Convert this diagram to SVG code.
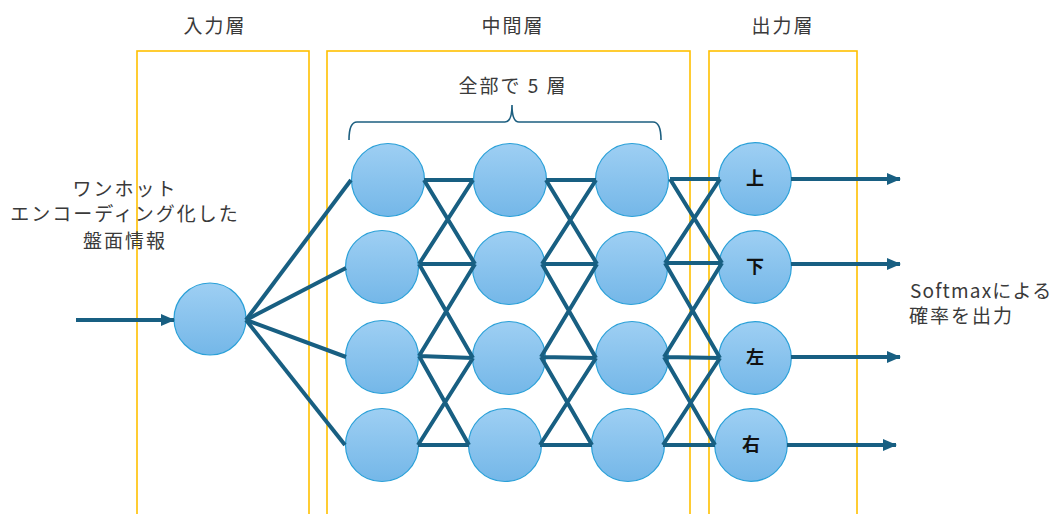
<svg xmlns="http://www.w3.org/2000/svg" width="1055" height="514" viewBox="0 0 1055 514">
<defs>
<linearGradient id="nodeGrad" x1="0" y1="0" x2="0" y2="1">
<stop offset="0" stop-color="#9ecff3"/>
<stop offset="1" stop-color="#74b7e8"/>
</linearGradient>
<marker id="arrow" markerUnits="userSpaceOnUse" markerWidth="14" markerHeight="14" viewBox="0 0 14 14" refX="13" refY="7" orient="auto">
<path d="M0,1 L14,7 L0,13 Z" fill="#185f82"/>
</marker>
<style>
.layer{fill:none;stroke:#ffc000;stroke-width:1.6}
.node{fill:url(#nodeGrad);stroke:#2aa0d8;stroke-width:1.2}
.conn{fill:none;stroke:#185f82;stroke-width:4;stroke-linecap:butt}
.arr{fill:none;stroke:#185f82;stroke-width:4;marker-end:url(#arrow)}
.lbl{font-family:"Noto Sans CJK JP","Noto Sans",sans-serif;font-size:19px;fill:#3a3a3a;text-anchor:middle;letter-spacing:2px}
.side{font-family:"Noto Sans CJK JP","Noto Sans",sans-serif;font-size:19px;fill:#3a3a3a;letter-spacing:2px}
.out{font-family:"Noto Sans CJK JP","Noto Sans",sans-serif;font-size:18px;font-weight:bold;fill:#111;text-anchor:middle}
</style>
</defs>
<rect width="1055" height="514" fill="#ffffff"/>

<g id="layers">
<rect class="layer" x="137" y="51" width="172" height="500"/>
<rect class="layer" x="327" y="51" width="363" height="500"/>
<rect class="layer" x="709" y="51" width="148" height="500"/>
<text class="lbl" x="215" y="33">入力層</text>
<text class="lbl" x="513" y="33">中間層</text>
<text class="lbl" x="783" y="33">出力層</text>
</g>

<g id="brace">
<text class="lbl" x="513" y="93">全部で 5 層</text>
<path d="M349,140 Q349,122 357,122 L505,122 Q512,122 512,105 Q512,122 519,122 L653,122 Q661,122 661,140" fill="none" stroke="#1d5f80" stroke-width="1.6"/>
</g>

<g id="input-label">
<text class="lbl" x="125" y="196">ワンホット</text>
<text class="lbl" x="125" y="221">エンコーディング化した</text>
<text class="lbl" x="125" y="248">盤面情報</text>
</g>

<g id="output-label">
<text class="side" x="910" y="298" style="letter-spacing:1.2px">Softmaxによる</text>
<text class="side" x="909" y="323">確率を出力</text>
</g>

<g id="input-node"><circle class="node" cx="210" cy="319" r="36"/></g>

<g id="hidden1">
<circle class="node" cx="388" cy="180" r="36.5"/>
<circle class="node" cx="382" cy="267" r="36.5"/>
<circle class="node" cx="382" cy="357" r="36.5"/>
<circle class="node" cx="382" cy="445" r="36.5"/>
</g>
<g id="hidden2">
<circle class="node" cx="510" cy="180" r="36.5"/>
<circle class="node" cx="509" cy="268" r="36.5"/>
<circle class="node" cx="509" cy="358" r="36.5"/>
<circle class="node" cx="505" cy="445" r="36.5"/>
</g>
<g id="hidden3">
<circle class="node" cx="632" cy="180" r="36.5"/>
<circle class="node" cx="631" cy="268" r="36.5"/>
<circle class="node" cx="632" cy="358" r="36.5"/>
<circle class="node" cx="628" cy="445" r="36.5"/>
</g>

<g id="out-up"><circle class="node" cx="755" cy="179" r="36.3"/><text class="out" x="755" y="185">上</text></g>
<g id="out-down"><circle class="node" cx="755" cy="267" r="36.3"/><text class="out" x="755" y="273">下</text></g>
<g id="out-left"><circle class="node" cx="755" cy="358" r="36.3"/><text class="out" x="755" y="364">左</text></g>
<g id="out-right"><circle class="node" cx="751" cy="445" r="36.3"/><text class="out" x="751" y="451">右</text></g>

<g id="connectors">
<line class="arr" x1="76" y1="320" x2="174" y2="320"/>
<line class="conn" x1="246" y1="320" x2="351" y2="180"/>
<line class="conn" x1="246" y1="320" x2="346" y2="268"/>
<line class="conn" x1="246" y1="320" x2="346" y2="357"/>
<line class="conn" x1="246" y1="320" x2="345" y2="445"/>
<path class="conn" d="M424,180 L473,180 M419,264 L475,264 M419,356 L473,358 M418,445 L469,445 M424,180 L475,264 M419,264 L473,180 M419,264 L473,358 M419,356 L475,264 M419,356 L469,445 M418,445 L473,358"/>
<path class="conn" d="M546,180 L596,180 M542,264 L597,264 M541,357 L596,358 M540,445 L592,445 M546,180 L597,264 M542,264 L596,180 M542,264 L596,358 M541,357 L597,264 M541,357 L592,445 M540,445 L596,358"/>
<path class="conn" d="M670,179 L720,179 M665,263 L722,263 M664,357 L720,358 M663,445 L715,445 M670,179 L722,263 M665,263 L720,179 M665,263 L720,358 M664,357 L722,263 M664,357 L715,445 M663,445 L720,358"/>
<line class="arr" x1="791" y1="179" x2="900" y2="179"/>
<line class="arr" x1="791" y1="264" x2="900" y2="264"/>
<line class="arr" x1="791" y1="357" x2="900" y2="357"/>
<line class="arr" x1="787" y1="445" x2="896" y2="445"/>
</g>
</svg>
